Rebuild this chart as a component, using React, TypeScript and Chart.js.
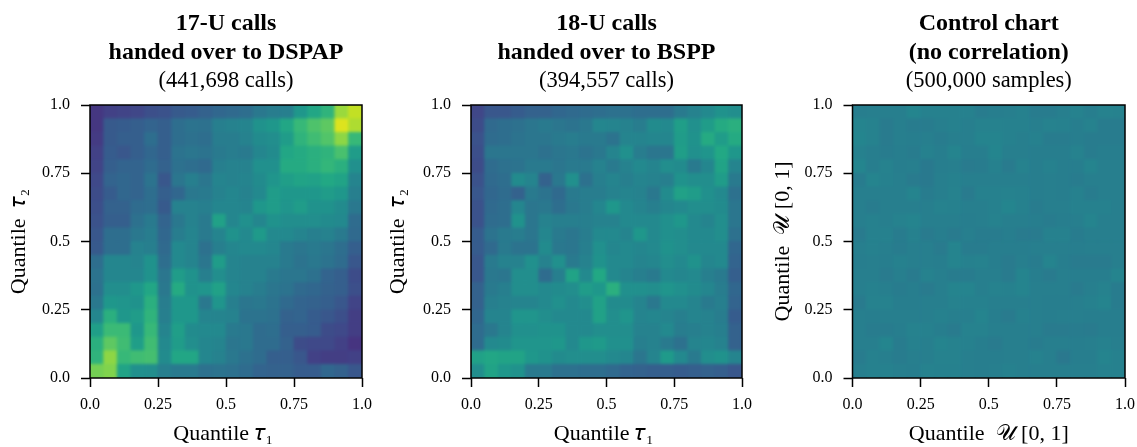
import React, { useEffect, useRef } from "react";
import { Chart, registerables } from "chart.js";

Chart.register(...registerables);

const xCenters = [0.025,0.075,0.125,0.175,0.225,0.275,0.325,0.375,0.425,0.475,0.525,0.575,0.625,0.675,0.725,0.775,0.825,0.875,0.925,0.975];
const rowTops = [1,0.95,0.9,0.85,0.8,0.75,0.7,0.65,0.6,0.55,0.5,0.45,0.4,0.35,0.3,0.25,0.2,0.15,0.1,0.05];
const tickValues = [0,0.25,0.5,0.75,1];
const tickLabels = ["0.0","0.25","0.5","0.75","1.0"];

const viridisStops = ["#440154","#481a6c","#472f7d","#414487","#39568c","#31688e","#2a788e","#23888e","#1f988b","#22a884","#35b779","#54c568","#7ad151","#a5db36","#d2e21b","#fde725"];

const dspapRows = [
[.13,.16,.17,.18,.21,.22,.25,.26,.28,.30,.31,.33,.37,.39,.40,.50,.56,.62,.82,.88],
[.13,.25,.26,.27,.29,.27,.33,.35,.34,.40,.41,.42,.48,.50,.56,.64,.69,.72,.92,.85],
[.14,.25,.27,.27,.33,.27,.33,.34,.33,.39,.39,.41,.45,.46,.52,.62,.66,.70,.80,.64],
[.16,.26,.24,.27,.30,.27,.35,.36,.35,.38,.39,.38,.43,.45,.56,.58,.60,.62,.68,.52],
[.17,.27,.29,.29,.32,.28,.34,.33,.31,.40,.41,.41,.47,.47,.58,.58,.60,.63,.60,.47],
[.19,.29,.30,.29,.35,.24,.36,.40,.36,.42,.41,.42,.45,.49,.53,.55,.54,.57,.55,.42],
[.20,.26,.30,.29,.33,.27,.30,.37,.38,.41,.43,.41,.44,.52,.50,.50,.50,.52,.50,.40],
[.21,.28,.28,.32,.33,.25,.41,.41,.40,.43,.43,.42,.50,.52,.49,.52,.48,.48,.45,.37],
[.22,.27,.27,.34,.38,.29,.37,.41,.38,.54,.43,.47,.43,.48,.46,.46,.46,.45,.44,.32],
[.24,.33,.33,.37,.39,.30,.39,.42,.38,.42,.48,.44,.51,.44,.44,.42,.40,.41,.38,.31],
[.25,.33,.33,.41,.40,.31,.44,.42,.34,.40,.43,.44,.44,.43,.38,.36,.38,.36,.33,.27],
[.33,.43,.43,.42,.48,.33,.44,.42,.36,.52,.42,.41,.41,.41,.38,.35,.37,.35,.32,.24],
[.35,.43,.43,.43,.48,.36,.52,.48,.40,.46,.42,.41,.41,.38,.36,.36,.34,.29,.27,.20],
[.34,.46,.46,.50,.56,.37,.58,.48,.49,.54,.43,.41,.39,.36,.35,.31,.30,.28,.27,.21],
[.37,.50,.49,.48,.60,.39,.50,.50,.37,.49,.40,.36,.37,.35,.31,.29,.28,.27,.24,.17],
[.43,.60,.50,.52,.62,.40,.50,.50,.42,.42,.41,.35,.35,.34,.28,.29,.26,.24,.21,.15],
[.53,.65,.65,.50,.64,.42,.53,.45,.44,.44,.38,.37,.32,.33,.27,.27,.26,.20,.19,.15],
[.60,.72,.66,.53,.66,.44,.52,.46,.43,.42,.36,.37,.32,.32,.28,.20,.19,.19,.16,.12],
[.62,.80,.64,.66,.67,.45,.56,.56,.43,.41,.37,.34,.32,.27,.27,.24,.16,.15,.15,.16],
[.76,.78,.55,.47,.46,.40,.38,.38,.34,.35,.34,.32,.29,.28,.28,.26,.26,.30,.28,.24],
];

const bsppRows = [
[.18,.24,.24,.26,.28,.28,.30,.31,.32,.33,.34,.34,.33,.33,.33,.38,.41,.44,.48,.46],
[.20,.31,.33,.34,.36,.38,.36,.35,.37,.43,.42,.41,.39,.45,.44,.53,.47,.52,.58,.60],
[.22,.32,.33,.35,.36,.36,.38,.39,.38,.38,.35,.42,.42,.43,.43,.52,.48,.58,.52,.58],
[.21,.36,.36,.36,.36,.34,.36,.37,.35,.37,.42,.47,.39,.36,.36,.53,.47,.49,.57,.50],
[.20,.32,.34,.35,.38,.38,.36,.38,.38,.41,.38,.41,.44,.42,.46,.45,.38,.43,.55,.42],
[.22,.31,.33,.45,.42,.28,.37,.47,.34,.40,.42,.40,.42,.41,.40,.48,.46,.46,.52,.38],
[.24,.30,.32,.28,.38,.35,.31,.38,.39,.39,.41,.42,.41,.37,.45,.54,.52,.47,.44,.34],
[.22,.31,.33,.43,.36,.37,.33,.37,.39,.43,.50,.44,.42,.40,.43,.44,.46,.46,.45,.36],
[.22,.32,.33,.48,.36,.41,.40,.40,.40,.41,.41,.44,.44,.44,.47,.50,.44,.42,.46,.36],
[.26,.35,.38,.39,.36,.43,.38,.36,.39,.44,.44,.42,.50,.44,.47,.46,.44,.44,.46,.34],
[.26,.31,.38,.35,.35,.45,.37,.36,.40,.47,.43,.44,.43,.44,.48,.46,.44,.44,.44,.30],
[.24,.38,.41,.41,.47,.41,.47,.38,.41,.48,.44,.44,.42,.43,.46,.44,.48,.43,.44,.29],
[.24,.37,.36,.46,.46,.32,.40,.55,.44,.57,.44,.42,.40,.38,.44,.43,.44,.40,.38,.27],
[.28,.38,.40,.46,.46,.44,.45,.46,.52,.50,.60,.47,.47,.46,.49,.47,.45,.43,.39,.30],
[.28,.40,.41,.42,.42,.44,.47,.44,.46,.54,.45,.45,.42,.37,.44,.44,.42,.38,.40,.29],
[.30,.42,.42,.49,.49,.46,.44,.44,.44,.54,.46,.49,.42,.43,.42,.40,.42,.41,.39,.26],
[.32,.37,.42,.47,.47,.48,.48,.44,.44,.46,.46,.46,.41,.41,.44,.39,.40,.41,.40,.28],
[.32,.44,.45,.49,.49,.49,.50,.44,.50,.51,.47,.47,.40,.41,.38,.34,.42,.43,.41,.28],
[.54,.56,.55,.55,.50,.48,.45,.46,.46,.46,.44,.43,.36,.42,.51,.44,.38,.46,.48,.42],
[.46,.55,.50,.48,.38,.38,.34,.34,.33,.33,.31,.29,.28,.27,.27,.26,.27,.28,.27,.24],
];

const controlRows = [
[.41,.42,.42,.42,.46,.43,.43,.43,.43,.40,.41,.42,.43,.40,.40,.42,.44,.41,.44,.44],
[.45,.44,.39,.42,.40,.40,.42,.43,.42,.44,.44,.43,.43,.42,.44,.43,.41,.44,.40,.40],
[.46,.44,.39,.42,.41,.42,.40,.42,.42,.45,.45,.43,.42,.43,.40,.40,.41,.40,.40,.40],
[.43,.41,.40,.41,.40,.43,.41,.45,.41,.41,.46,.42,.42,.41,.41,.41,.44,.40,.41,.41],
[.46,.41,.44,.41,.42,.38,.41,.42,.39,.40,.43,.39,.44,.41,.43,.41,.41,.45,.42,.42],
[.40,.45,.43,.42,.39,.38,.42,.43,.42,.42,.42,.42,.42,.41,.42,.41,.40,.42,.42,.42],
[.42,.42,.42,.42,.45,.40,.42,.44,.39,.43,.43,.44,.43,.41,.42,.41,.43,.40,.42,.42],
[.42,.40,.42,.42,.42,.42,.44,.43,.42,.42,.43,.46,.43,.40,.42,.42,.43,.43,.43,.42],
[.42,.43,.42,.44,.45,.42,.42,.42,.41,.42,.44,.42,.42,.41,.40,.41,.42,.45,.42,.42],
[.39,.43,.43,.40,.43,.39,.41,.39,.42,.40,.40,.41,.39,.39,.43,.43,.40,.42,.42,.42],
[.42,.43,.42,.40,.42,.42,.39,.45,.40,.40,.41,.41,.41,.42,.42,.42,.41,.42,.42,.42],
[.41,.42,.41,.43,.42,.42,.41,.45,.43,.44,.41,.39,.42,.40,.45,.41,.39,.39,.39,.42],
[.42,.42,.39,.42,.39,.44,.42,.40,.40,.42,.42,.39,.45,.41,.39,.42,.41,.41,.41,.45],
[.42,.43,.42,.40,.41,.39,.42,.45,.45,.42,.44,.43,.45,.42,.42,.42,.39,.42,.44,.40],
[.39,.44,.44,.41,.41,.42,.42,.44,.43,.43,.42,.42,.42,.42,.41,.41,.42,.43,.45,.40],
[.42,.41,.42,.42,.42,.42,.43,.42,.42,.45,.41,.39,.43,.42,.41,.42,.42,.41,.41,.41],
[.42,.40,.40,.41,.44,.43,.41,.39,.44,.44,.42,.42,.42,.42,.39,.39,.40,.39,.41,.41],
[.42,.42,.46,.40,.43,.42,.45,.44,.43,.41,.39,.42,.42,.40,.42,.42,.41,.42,.43,.42],
[.40,.43,.42,.40,.42,.42,.44,.44,.42,.41,.41,.42,.42,.44,.42,.37,.41,.41,.45,.43],
[.42,.43,.43,.42,.41,.44,.43,.43,.42,.41,.42,.43,.42,.42,.42,.42,.42,.42,.43,.43],
];

const SERIF = '"Liberation Serif", "DejaVu Serif", serif';
const CELL = 0.05;

function hexToRgb(h: string) {
  return [parseInt(h.slice(1, 3), 16), parseInt(h.slice(3, 5), 16), parseInt(h.slice(5, 7), 16)];
}

function viridis(v: number) {
  const t = Math.max(0, Math.min(1, v)) * (viridisStops.length - 1);
  const i = Math.min(viridisStops.length - 2, Math.floor(t));
  const a = hexToRgb(viridisStops[i]);
  const b = hexToRgb(viridisStops[i + 1]);
  const f = t - i;
  return `rgb(${a.map((c, k) => Math.round(c + (b[k] - c) * f)).join(",")})`;
}

// Softens the cell edges, as the interpolated image in the reference does, then draws the frame.
const frame = {
  id: "frame",
  afterDatasetsDraw(chart: any) {
    const { ctx, chartArea: a, canvas } = chart;
    const w = a.right - a.left;
    const h = a.bottom - a.top;
    ctx.save();
    ctx.beginPath();
    ctx.rect(a.left, a.top, w, h);
    ctx.clip();
    ctx.filter = "blur(1.6px)";
    ctx.drawImage(canvas, a.left, a.top, w, h, a.left, a.top, w, h);
    ctx.restore();
    ctx.save();
    ctx.strokeStyle = "#000";
    ctx.lineWidth = 1.5;
    ctx.strokeRect(a.left, a.top, w, h);
    ctx.restore();
  },
};

type PanelProps = {
  left: number;
  width: number;
  plotLeft: number;
  plotRight: number;
  yTitleInset: number;
  vmin: number;
  vmax: number;
  title: string[];
  subtitle: string;
  xTitle: string;
  yTitle: string;
  rows: number[][];
};

function Panel(p: PanelProps) {
  const ref = useRef<HTMLCanvasElement>(null);
  useEffect(() => {
    const points: any[] = [];
    const colors: string[] = [];
    p.rows.forEach((row, r) =>
      row.forEach((v, c) => {
        points.push({ x: xCenters[c], y: [rowTops[r] - CELL, rowTops[r]] });
        colors.push(viridis((v - p.vmin) / (p.vmax - p.vmin)));
      })
    );
    const tickFont = { family: SERIF, size: 16 };
    const titleFont = { family: SERIF, size: 22 };
    const label = (val: any) => {
      const i = tickValues.findIndex((t) => Math.abs(t - Number(val)) < 1e-6);
      return i >= 0 ? tickLabels[i] : "";
    };
    const grid = {
      offset: false,
      drawOnChartArea: false,
      drawTicks: true,
      tickLength: 9,
      tickWidth: 1.5,
      tickColor: "#000",
    };
    const chart = new Chart(ref.current!, {
      type: "bar",
      data: {
        datasets: [
          {
            data: points,
            backgroundColor: colors,
            borderWidth: 0,
            barPercentage: 1,
            categoryPercentage: 1,
          },
        ],
      },
      options: {
        responsive: false,
        animation: false,
        events: [],
        layout: { padding: { left: 0, right: p.width - p.plotRight, top: 0, bottom: 0 } },
        plugins: {
          legend: { display: false },
          tooltip: { enabled: false },
          title: {
            display: true,
            fullSize: false,
            text: p.title,
            color: "#000",
            font: { family: SERIF, size: 24, weight: "bold", lineHeight: 29 / 24 },
            padding: { top: 9, bottom: 0 },
          },
          subtitle: {
            display: true,
            fullSize: false,
            text: p.subtitle,
            color: "#000",
            font: { family: SERIF, size: 22.5, weight: "normal", lineHeight: 29 / 22.5 },
            padding: { top: 0, bottom: 9 },
          },
        },
        scales: {
          x: {
            type: "linear",
            min: 0,
            max: 1,
            offset: false,
            afterFit: (s: any) => {
              s.height = 69;
            },
            afterBuildTicks: (s: any) => {
              s.ticks = tickValues.map((value) => ({ value }));
            },
            border: { display: false },
            grid,
            ticks: {
              callback: label,
              color: "#000",
              font: tickFont,
              padding: 8,
              maxRotation: 0,
              autoSkip: false,
            },
            title: {
              display: true,
              text: p.xTitle,
              color: "#000",
              font: titleFont,
              padding: { top: 5, bottom: 0 },
            },
          },
          y: {
            type: "linear",
            min: 0,
            max: 1,
            afterFit: (s: any) => {
              s.width = p.plotLeft;
            },
            afterBuildTicks: (s: any) => {
              s.ticks = tickValues.map((value) => ({ value }));
            },
            border: { display: false },
            grid,
            ticks: { callback: label, color: "#000", font: tickFont, padding: 11, autoSkip: false },
            title: {
              display: true,
              text: p.yTitle,
              color: "#000",
              font: titleFont,
              padding: { top: p.yTitleInset, bottom: 0 },
            },
          },
        },
      },
      plugins: [frame],
    } as any);
    return () => chart.destroy();
  }, []);
  return (
    <canvas
      ref={ref}
      width={p.width}
      height={447}
      style={{ position: "absolute", left: p.left, top: 0, width: p.width, height: 447 }}
    />
  );
}

export default function App() {
  return (
    <div style={{ position: "absolute", left: 0, top: 0, width: 1137, height: 447, background: "#fff", overflow: "hidden" }}>
      <Panel
        left={0}
        width={380}
        plotLeft={90}
        plotRight={363}
        yTitleInset={6}
        vmin={-0.03}
        vmax={0.97}
        title={["17-U calls", "handed over to DSPAP"]}
        subtitle="(441,698 calls)"
        xTitle="Quantile 𝜏₁ "
        yTitle="Quantile  𝜏₂"
        rows={dspapRows}
      />
      <Panel
        left={380}
        width={380}
        plotLeft={91}
        plotRight={364}
        yTitleInset={5}
        vmin={-0.03}
        vmax={0.97}
        title={["18-U calls", "handed over to BSPP"]}
        subtitle="(394,557 calls)"
        xTitle="Quantile 𝜏₁ "
        yTitle="Quantile  𝜏₂"
        rows={bsppRows}
      />
      <Panel
        left={760}
        width={400}
        plotLeft={92.5}
        plotRight={365}
        yTitleInset={10}
        vmin={-0.297}
        vmax={1.37}
        title={["Control chart", "(no correlation)"]}
        subtitle="(500,000 samples)"
        xTitle="Quantile  𝒰 [0, 1]"
        yTitle="Quantile  𝒰 [0, 1]"
        rows={controlRows}
      />
    </div>
  );
}
